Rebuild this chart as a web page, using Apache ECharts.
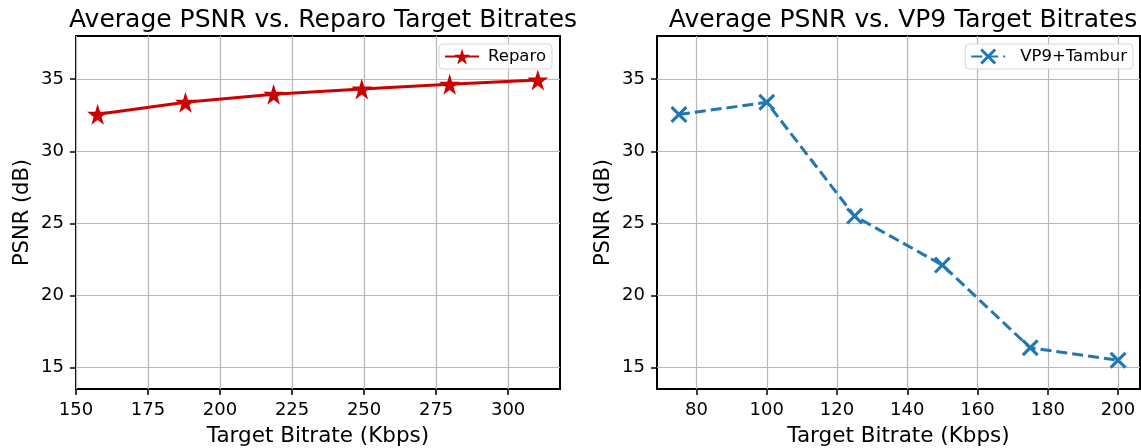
<!DOCTYPE html>
<html>
<head>
<meta charset="utf-8">
<script src="https://cdn.jsdelivr.net/npm/echarts@6/dist/echarts.min.js"></script>
<style>
  html, body { margin: 0; padding: 0; background: #fff; }
  #chart { width: 1141px; height: 448px; }
</style>
</head>
<body>
<div id="chart"></div>
<script>
// values
const reparoBitrates = [157.5, 188, 218.6, 249.2, 279.7, 310.3];
const reparoPsnr = [32.57, 33.4, 33.96, 34.33, 34.65, 34.95];
const vp9Bitrates = [75, 100, 125, 150, 175, 200];
const vp9Psnr = [32.55, 33.4, 25.5, 22.1, 16.36, 15.5];

const reparoTicks = [150, 175, 200, 225, 250, 275, 300];
const vp9Ticks = [80, 100, 120, 140, 160, 180, 200];
const psnrTicks = [15, 20, 25, 30, 35];

const font = 'DejaVu Sans';
const starPath = 'path://M50,0 L61,35 L98,35 L68,57 L79,91 L50,70 L21,91 L32,57 L2,35 L39,35 Z';
const crossPath = 'path://M0,13 L13,0 L50,37 L87,0 L100,13 L63,50 L100,87 L87,100 L50,63 L13,100 L0,87 L37,50 Z';

const chart = echarts.init(document.getElementById('chart'), null, { renderer: 'canvas' });

function xAxisFor(gridIndex, min, max, ticks) {
	return {
		type: 'value',
		gridIndex: gridIndex,
		min: min,
		max: max,
		name: 'Target Bitrate (Kbps)',
		nameLocation: 'middle',
		nameGap: 36,
		nameTextStyle: { fontFamily: font, fontSize: 21.5, color: '#000' },
		axisLine: { show: false },
		axisTick: { show: true, inside: false, length: 6, customValues: ticks, lineStyle: { color: '#000', width: 1.5 } },
		axisLabel: { customValues: ticks, margin: 12, fontFamily: font, fontSize: 18, color: '#000' },
		splitLine: { show: true, lineStyle: { color: '#b8b8b8', width: 1.2 } }
	};
}

function yAxisFor(gridIndex) {
	return {
		type: 'value',
		gridIndex: gridIndex,
		min: 13.5,
		max: 38,
		name: 'PSNR (dB)',
		nameLocation: 'middle',
		nameGap: 43,
		nameTextStyle: { fontFamily: font, fontSize: 21, color: '#000' },
		axisLine: { show: false },
		axisTick: { show: true, inside: false, length: 6, customValues: psnrTicks, lineStyle: { color: '#000', width: 1.5 } },
		axisLabel: { customValues: psnrTicks, margin: 12, fontFamily: font, fontSize: 18, color: '#000' },
		splitLine: { show: true, lineStyle: { color: '#b8b8b8', width: 1.2 } }
	};
}

chart.setOption({
	animation: false,
	backgroundColor: '#fff',
	title: [
		{
			text: 'Average PSNR vs. Reparo Target Bitrates',
			left: 318, top: 3, textAlign: 'center',
			textStyle: { fontFamily: font, fontSize: 25, fontWeight: 'normal', color: '#000' }
		},
		{
			text: 'Average PSNR vs. VP9 Target Bitrates',
			left: 898, top: 3, textAlign: 'center',
			textStyle: { fontFamily: font, fontSize: 25, fontWeight: 'normal', color: '#000' }
		}
	],
	grid: [
		{ left: 76, right: 581, top: 36, bottom: 59, outerBoundsMode: 'none', show: true, borderColor: '#000', borderWidth: 2, backgroundColor: 'transparent' },
		{ left: 657, right: 1, top: 36, bottom: 59, outerBoundsMode: 'none', show: true, borderColor: '#000', borderWidth: 2, backgroundColor: 'transparent' }
	],
	legend: [
		{
			data: ['Reparo'],
			right: 589, top: 44,
			orient: 'vertical',
			itemWidth: 34, itemHeight: 20,
			padding: [4, 6, 4, 5],
			borderColor: '#d6d6d6', borderWidth: 1, borderRadius: 4,
			backgroundColor: 'rgba(255,255,255,0.8)',
			textStyle: { fontFamily: font, fontSize: 16.5, color: '#000', padding: [0, 0, 0, 4] }
		},
		{
			data: ['VP9+Tambur'],
			right: 8, top: 44,
			orient: 'vertical',
			itemWidth: 34, itemHeight: 20,
			padding: [4, 6, 4, 5],
			borderColor: '#d6d6d6', borderWidth: 1, borderRadius: 4,
			backgroundColor: 'rgba(255,255,255,0.8)',
			textStyle: { fontFamily: font, fontSize: 16.5, color: '#000', padding: [0, 0, 0, 10] }
		}
	],
	xAxis: [
		xAxisFor(0, 150, 318, reparoTicks),
		xAxisFor(1, 68.75, 206.25, vp9Ticks)
	],
	yAxis: [yAxisFor(0), yAxisFor(1)],
	series: [
		{
			name: 'Reparo',
			type: 'line',
			xAxisIndex: 0, yAxisIndex: 0,
			data: reparoBitrates.map((x, i) => [x, reparoPsnr[i]]),
			color: '#cc0000',
			lineStyle: { width: 3, color: '#cc0000' },
			symbol: starPath,
			symbolSize: 21,
			showAllSymbol: true,
			itemStyle: { color: '#cc0000' },
			z: 3
		},
		{
			name: 'VP9+Tambur',
			type: 'line',
			xAxisIndex: 1, yAxisIndex: 1,
			data: vp9Bitrates.map((x, i) => [x, vp9Psnr[i]]),
			color: '#1f77b4',
			lineStyle: { width: 3, color: '#1f77b4', type: [11, 5] },
			symbol: crossPath,
			symbolSize: 17,
			showAllSymbol: true,
			itemStyle: { color: '#1f77b4' },
			z: 3
		}
	]
});
</script>
</body>
</html>
